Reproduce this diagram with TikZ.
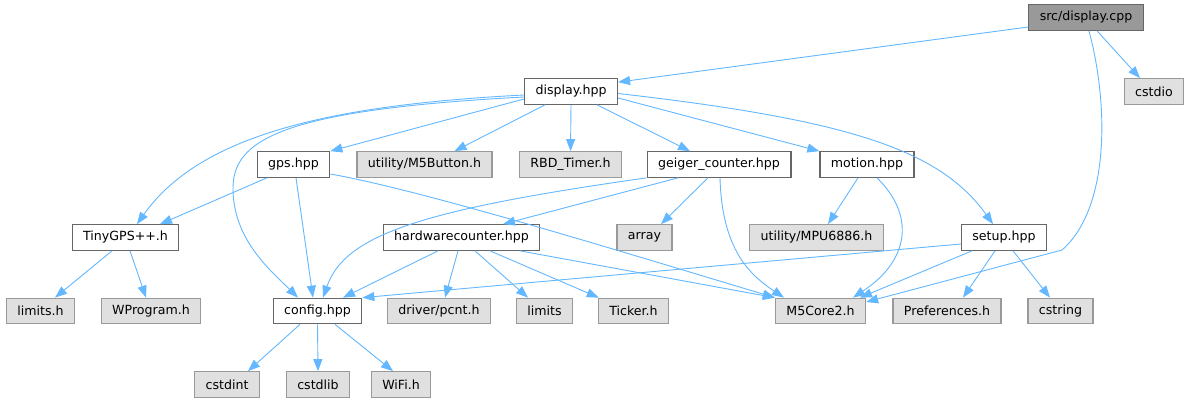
\documentclass[tikz,border=0pt]{standalone}
\usepackage{fontspec}
\setmainfont{DejaVu Sans}
\usepackage{tikz}
\usetikzlibrary{arrows.meta}

\definecolor{edgeblue}{HTML}{63B8FF}
\definecolor{docline}{HTML}{666666}
\definecolor{extfill}{HTML}{E0E0E0}
\definecolor{extline}{HTML}{999999}

\begin{document}
\begin{tikzpicture}[x=1pt,y=-1pt,line width=0.9pt,
  >={Triangle[length=12pt,width=9pt]},
  box/.style={rectangle,inner xsep=11pt,inner ysep=0pt,minimum height=25.5pt,
    line width=1.2pt,font=\fontsize{12.6}{15}\selectfont},
  doc/.style={box,draw=docline,fill=white},
  ext/.style={box,draw=extline,fill=extfill},
  root/.style={box,draw=docline,fill=extline},
  dep/.style={->,draw=edgeblue}]
  \useasboundingbox[fill=white] (0,0) rectangle (1190,403);

  \node[root] (cpp) at (1086,17.5) {src/display.cpp};
  \node[ext] (cstdio) at (1154,91.5) {cstdio};
  \node[doc] (disp) at (571,91.5) {display.hpp};

  \node[doc] (gps) at (293.5,164.5) {gps.hpp};
  \node[ext] (btn) at (424.5,164.5) {utility/M5Button.h};
  \node[ext] (rbd) at (570.5,164.5) {RBD\_Timer.h};
  \node[doc] (geiger) at (719,164.5) {geiger\_counter.hpp};
  \node[doc] (motion) at (867,164.5) {motion.hpp};

  \node[doc] (tiny) at (125.5,237.5) {TinyGPS++.h};
  \node[doc] (hwc) at (461.5,237.5) {hardwarecounter.hpp};
  \node[ext] (arr) at (644.5,237.5) {array};
  \node[ext] (mpu) at (816.5,237.5) {utility/MPU6886.h};
  \node[doc] (setup) at (1004,237.5) {setup.hpp};

  \node[ext] (limh) at (40.5,311) {limits.h};
  \node[ext] (wprog) at (151,311) {WProgram.h};
  \node[doc] (cfg) at (317.5,311) {config.hpp};
  \node[ext] (pcnt) at (439,311) {driver/pcnt.h};
  \node[ext] (lim) at (544.5,311) {limits};
  \node[ext] (ticker) at (633.5,311) {Ticker.h};
  \node[ext] (m5) at (820.5,311) {M5Core2.h};
  \node[ext] (pref) at (947,311) {Preferences.h};
  \node[ext] (cstring) at (1060.5,311) {cstring};

  \node[ext] (cint) at (227,384.5) {cstdint};
  \node[ext] (clib) at (318,384.5) {cstdlib};
  \node[ext] (wifi) at (401,384.5) {WiFi.h};

  \draw[dep] ([yshift=-9.5pt]cpp.west) -- ([yshift=-4pt]disp.north east);
  \draw[dep] ([xshift=11pt]cpp.south) -- ([xshift=-14pt]cstdio.north);
  \draw[dep] ([xshift=3pt]cpp.south) .. controls (1110,110) and (1108,210) .. (1062,250)
    -- ([yshift=9pt]m5.east);

  \draw[dep] ([yshift=-7.5pt]disp.west) -- (gps.north east);
  \draw[dep] ([xshift=-26pt]disp.south) -- ([xshift=30pt]btn.north);
  \draw[dep] (disp.south) -- (rbd.north);
  \draw[dep] ([xshift=26pt]disp.south) -- ([xshift=-29pt]geiger.north);
  \draw[dep] ([yshift=-6.5pt]disp.east) -- (motion.north west);
  \draw[dep] ([yshift=-2pt]disp.east) .. controls (850,120) and (940,150) .. ([xshift=-11pt]setup.north);
  \draw[dep] ([yshift=-3.5pt]disp.west) .. controls (330,105) and (200,135) .. ([xshift=11.5pt]tiny.north);
  \draw[dep] ([yshift=-5.5pt]disp.west) .. controls (280,110) and (232,140) .. (233,190)
    .. controls (234,240) and (270,270) .. ([xshift=-19.5pt]cfg.north);

  \draw[dep] ([xshift=-26.5pt]gps.south) -- ([xshift=34.5pt]tiny.north);
  \draw[dep] ([xshift=2.5pt]gps.south) -- ([xshift=-4.5pt]cfg.north);
  \draw[dep] ([yshift=-9.5pt]gps.east) .. controls (420,190) and (600,245) .. (m5.north west);

  \draw[dep] (geiger.south west) .. controls (420,210) and (345,235) .. ([xshift=5.5pt]cfg.north);
  \draw[dep] ([xshift=-41pt]geiger.south) -- ([xshift=41.5pt]hwc.north);
  \draw[dep] ([xshift=-11pt]geiger.south) -- ([xshift=16.5pt]arr.north);
  \draw[dep] ([xshift=1pt]geiger.south) .. controls (722,250) and (750,275) .. ([xshift=-36.5pt]m5.north);

  \draw[dep] ([xshift=-9pt]motion.south) -- ([xshift=11.5pt]mpu.north);
  \draw[dep] ([xshift=10pt]motion.south) .. controls (915,215) and (910,260) .. ([xshift=32.5pt]m5.north);

  \draw[dep] ([xshift=-23.5pt]hwc.south) -- ([xshift=25.5pt]cfg.north);
  \draw[dep] ([xshift=-3.5pt]hwc.south) -- ([xshift=6pt]pcnt.north);
  \draw[dep] ([xshift=13.5pt]hwc.south) -- ([xshift=-16.5pt]lim.north);
  \draw[dep] ([xshift=28.5pt]hwc.south) -- ([xshift=1pt]ticker.north west);
  \draw[dep] ([xshift=58.5pt]hwc.south) -- (m5.north west);

  \draw[dep] ([yshift=-6.5pt]setup.west) -- (cfg.north east);
  \draw[dep] ([xshift=-32pt]setup.south) -- ([xshift=39.5pt]m5.north);
  \draw[dep] ([xshift=-9pt]setup.south) -- ([xshift=16pt]pref.north);
  \draw[dep] ([xshift=9pt]setup.south) -- ([xshift=-10.5pt]cstring.north);

  \draw[dep] ([xshift=-13.5pt]tiny.south) -- ([xshift=14.5pt]limh.north);
  \draw[dep] ([xshift=4.5pt]tiny.south) -- ([xshift=-5pt]wprog.north);

  \draw[dep] ([xshift=-17.5pt]cfg.south) -- ([xshift=21pt]cint.north);
  \draw[dep] (cfg.south) -- (clib.north);
  \draw[dep] ([xshift=17.5pt]cfg.south) -- ([xshift=-8pt]wifi.north);
\end{tikzpicture}
\end{document}
